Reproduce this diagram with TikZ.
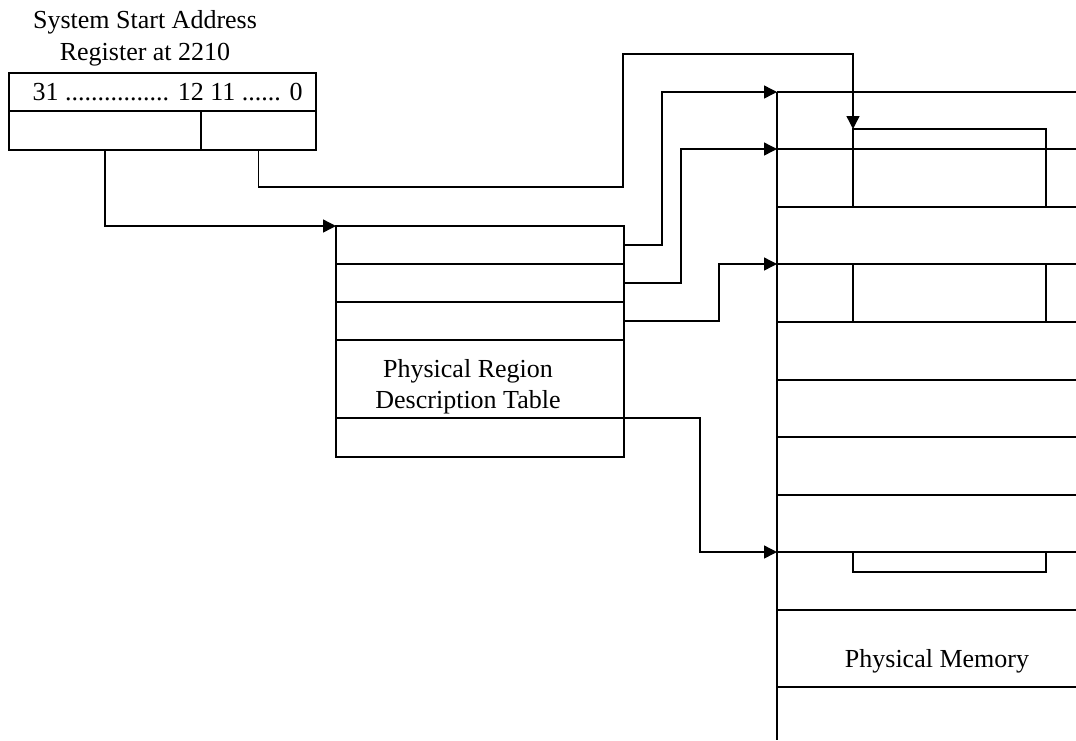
\documentclass[tikz,border=0pt]{standalone}
\usepackage{fontspec}
\setmainfont{Liberation Serif}
\usetikzlibrary{arrows.meta}
\begin{document}
\begin{tikzpicture}[x=1pt,y=-1pt,line width=1.4pt,
  cell/.style={draw, rectangle, inner sep=0pt, outer sep=0pt, line width=1.4pt, anchor=north west},
  lbl/.style={font=\fontsize{26}{31.5}\selectfont, inner sep=0pt, anchor=base},
  conn/.style={line width=1.4pt, -{Triangle[length=13pt,width=13pt]}}]
\useasboundingbox (0,0) rectangle (1076,740);
% register
\node[lbl] (title1) at (145,28) {System Start Address};
\node[lbl] (title2) at (145,60) {Register at 2210};
\node[cell, minimum width=307pt, minimum height=38pt] (reghdr) at (9,73) {};
\node[cell, minimum width=192pt, minimum height=39pt] (reghi) at (9,111) {};
\node[cell, minimum width=115pt, minimum height=39pt] (reglo) at (201,111) {};
\node[lbl, anchor=base west] (regtxt) at (32,100) {31 ................ 12 11 ...... 0};
% PRDT
\node[cell, minimum width=288pt, minimum height=38pt] (prd1) at (336,226) {};
\node[cell, minimum width=288pt, minimum height=38pt] (prd2) at (336,264) {};
\node[cell, minimum width=288pt, minimum height=38pt] (prd3) at (336,302) {};
\node[cell, minimum width=288pt, minimum height=78pt] (prd4) at (336,340) {};
\node[cell, minimum width=288pt, minimum height=39pt] (prd5) at (336,418) {};
\node[lbl] (prdtxt1) at (468,377) {Physical Region};
\node[lbl] (prdtxt2) at (468,408) {Description Table};
% memory
\coordinate (m0) at (777,92);
\coordinate (m1) at (777,149);
\coordinate (m2) at (777,207);
\coordinate (m3) at (777,264);
\coordinate (m4) at (777,322);
\coordinate (m5) at (777,380);
\coordinate (m6) at (777,437);
\coordinate (m7) at (777,495);
\coordinate (m8) at (777,552);
\coordinate (m9) at (777,610);
\coordinate (m10) at (777,687);
\coordinate (mend) at (777,740);
\draw (m0) -- (mend);
\foreach \i in {0,...,10} { \draw (m\i) -- ++(299,0); }
\node[cell, minimum width=193pt, minimum height=78pt] (pg1) at (853,129) {};
\node[cell, minimum width=193pt, minimum height=58pt] (pg2) at (853,264) {};
\node[cell, minimum width=193pt, minimum height=20pt] (pg3) at (853,552) {};
\node[lbl] (memtxt) at (937,667) {Physical Memory};
% connectors
\draw[conn] (reghi.south) |- (prd1.north west);
\coordinate (c1) at ([yshift=-37pt]reglo.south);
\coordinate (c2) at (623,54);
\draw[conn] (reglo.south) -- (c1) -| (c2) -| (pg1.north west);
\draw[conn] (prd1.east) -| (662,92) -- (m0);
\draw[conn] (prd2.east) -| (681,149) -- (m1);
\draw[conn] (prd3.east) -| (719,264) -- (m3);
\draw[conn] (prd5.north east) -| (700,552) -- (m8);
\end{tikzpicture}
\end{document}
